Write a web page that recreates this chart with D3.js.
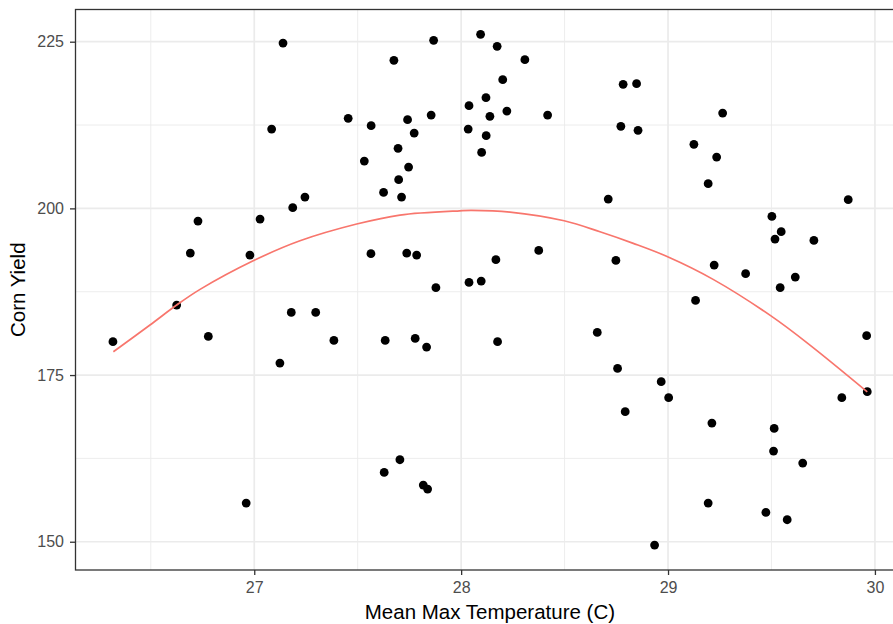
<!DOCTYPE html>
<html>
<head>
<meta charset="utf-8">
<script src="https://cdn.jsdelivr.net/npm/d3@7/dist/d3.min.js"></script>
<style>
  html, body { margin: 0; padding: 0; background: #ffffff; }
  svg { display: block; font-family: "Liberation Sans", Arial, Helvetica, sans-serif; }
</style>
</head>
<body>
<svg id="chart" width="893" height="624"></svg>
<script>
// Mean max temperature (C) for each observation
const temperature = [
  26.317, 26.625, 26.691, 26.728, 26.778, 26.961, 26.979, 27.028, 27.084, 27.139,
  27.124, 27.179, 27.186, 27.245, 27.297, 27.385, 27.454, 27.532, 27.565, 27.564,
  27.625, 27.633, 27.628, 27.675, 27.695, 27.698, 27.704, 27.712, 27.737, 27.741,
  27.746, 27.773, 27.778, 27.785, 27.817, 27.838, 27.833, 27.855, 27.867, 27.878,
  28.034, 28.038, 28.038, 28.094, 28.097, 28.099, 28.120, 28.121, 28.139, 28.168,
  28.174, 28.176, 28.201, 28.221, 28.308, 28.375, 28.418, 28.658, 28.711, 28.748,
  28.756, 28.772, 28.783, 28.793, 28.848, 28.855, 28.935, 28.967, 29.003, 29.125,
  29.133, 29.194, 29.194, 29.212, 29.223, 29.235, 29.264, 29.375, 29.473, 29.502,
  29.510, 29.513, 29.517, 29.542, 29.547, 29.576, 29.615, 29.651, 29.705, 29.840,
  29.871, 29.960, 29.963
];

// Corn yield for each observation (same order as temperature)
const cornYield = [
  180.0, 185.5, 193.3, 198.1, 180.8, 155.8, 193.0, 198.4, 211.9, 224.8,
  176.8, 184.4, 200.1, 201.7, 184.4, 180.2, 213.5, 207.1, 212.4, 193.2,
  202.4, 180.2, 160.4, 222.2, 209.0, 204.3, 162.3, 201.7, 193.3, 213.3,
  206.2, 211.3, 180.5, 193.0, 158.5, 157.9, 179.2, 214.0, 225.2, 188.1,
  211.9, 215.4, 188.9, 226.1, 189.1, 208.4, 216.6, 210.9, 213.8, 192.3,
  224.3, 180.0, 219.3, 214.6, 222.3, 193.7, 214.0, 181.4, 201.4, 192.2,
  176.0, 212.3, 218.6, 169.5, 218.7, 211.7, 149.5, 174.0, 171.6, 209.6,
  186.2, 203.7, 155.8, 167.8, 191.5, 207.7, 214.3, 190.2, 154.4, 198.8,
  163.6, 167.0, 195.4, 188.1, 196.5, 153.3, 189.7, 161.8, 195.2, 171.6,
  201.3, 180.9, 172.5
];

// Smoothed trend of yield against temperature
const trendTemp  = [26.319, 26.496, 26.625, 26.738, 26.995, 27.221, 27.495, 27.704, 27.994, 28.05,
                    28.236, 28.498, 28.671, 28.832, 28.998, 29.218, 29.501, 29.686, 29.963];
const trendYield = [178.49, 182.50, 185.50, 187.85, 192.14, 195.14, 197.65, 199.00, 199.64, 199.70,
                    199.45, 198.14, 196.49, 194.75, 192.74, 189.35, 183.80, 179.50, 172.49];

// Axis breaks
const xTicks = [27, 28, 29, 30];
const xMinor = [26.5, 27.5, 28.5, 29.5];
const yTicks = [150, 175, 200, 225];
const yMinor = [162.5, 187.5, 212.5];

const xLabel = "Mean Max Temperature (C)";
const yLabel = "Corn Yield";

const svg = d3.select("#chart");

const panel = { left: 75.5, right: 904.3, top: 9.5, bottom: 570 };

const x = d3.scaleLinear().domain([26.136, 30.142]).range([panel.left, panel.right]);
const y = d3.scaleLinear().domain([145.76, 229.83]).range([panel.bottom, panel.top]);

const gridColor = "#EBEBEB";

svg.append("clipPath").attr("id", "panel-clip")
  .append("rect")
  .attr("x", panel.left).attr("y", panel.top)
  .attr("width", panel.right - panel.left).attr("height", panel.bottom - panel.top);

const grid = svg.append("g").attr("clip-path", "url(#panel-clip)");

// minor grid
grid.selectAll("line.xminor").data(xMinor).join("line")
  .attr("x1", d => x(d)).attr("x2", d => x(d))
  .attr("y1", panel.top).attr("y2", panel.bottom)
  .attr("stroke", gridColor).attr("stroke-width", 0.9);
grid.selectAll("line.yminor").data(yMinor).join("line")
  .attr("y1", d => y(d)).attr("y2", d => y(d))
  .attr("x1", panel.left).attr("x2", panel.right)
  .attr("stroke", gridColor).attr("stroke-width", 0.9);

// major grid
grid.selectAll("line.xmajor").data(xTicks).join("line")
  .attr("x1", d => x(d)).attr("x2", d => x(d))
  .attr("y1", panel.top).attr("y2", panel.bottom)
  .attr("stroke", gridColor).attr("stroke-width", 1.7);
grid.selectAll("line.ymajor").data(yTicks).join("line")
  .attr("y1", d => y(d)).attr("y2", d => y(d))
  .attr("x1", panel.left).attr("x2", panel.right)
  .attr("stroke", gridColor).attr("stroke-width", 1.7);

// observations
const points = temperature.map((t, i) => ({ t, v: cornYield[i] }));
grid.append("g").selectAll("circle").data(points).join("circle")
  .attr("cx", d => x(d.t))
  .attr("cy", d => y(d.v))
  .attr("r", 4.4)
  .attr("fill", "#000000");

// trend line
const trend = trendTemp.map((t, i) => [t, trendYield[i]]);
grid.append("path")
  .datum(trend)
  .attr("d", d3.line().x(d => x(d[0])).y(d => y(d[1])).curve(d3.curveCatmullRom.alpha(0.5)))
  .attr("fill", "none")
  .attr("stroke", "#F8766D")
  .attr("stroke-width", 1.7);

// panel border
svg.append("rect")
  .attr("x", panel.left).attr("y", panel.top)
  .attr("width", panel.right - panel.left).attr("height", panel.bottom - panel.top)
  .attr("fill", "none").attr("stroke", "#333333").attr("stroke-width", 1.3);

// axes
const tickColor = "#4D4D4D";
const xAxis = svg.append("g")
  .attr("transform", `translate(0,${panel.bottom})`)
  .call(d3.axisBottom(x).tickValues(xTicks).tickSize(5).tickPadding(7).tickFormat(d3.format("d")));
const yAxis = svg.append("g")
  .attr("transform", `translate(${panel.left},0)`)
  .call(d3.axisLeft(y).tickValues(yTicks).tickSize(5.5).tickPadding(6).tickFormat(d3.format("d")));

[xAxis, yAxis].forEach(ax => {
  ax.select(".domain").remove();
  ax.selectAll(".tick line").attr("stroke", "#333333").attr("stroke-width", 1.3);
  ax.selectAll(".tick text")
    .attr("fill", tickColor)
    .attr("font-size", 16)
    .attr("font-family", "Liberation Sans, Arial, sans-serif");
});

// axis titles
svg.append("text")
  .attr("x", (panel.left + panel.right) / 2)
  .attr("y", 618.5)
  .attr("text-anchor", "middle")
  .attr("font-size", 20.5)
  .attr("fill", "#000000")
  .text(xLabel);

svg.append("text")
  .attr("transform", `translate(25,${(panel.top + panel.bottom) / 2}) rotate(-90)`)
  .attr("text-anchor", "middle")
  .attr("font-size", 20.5)
  .attr("fill", "#000000")
  .text(yLabel);
</script>
</body>
</html>
